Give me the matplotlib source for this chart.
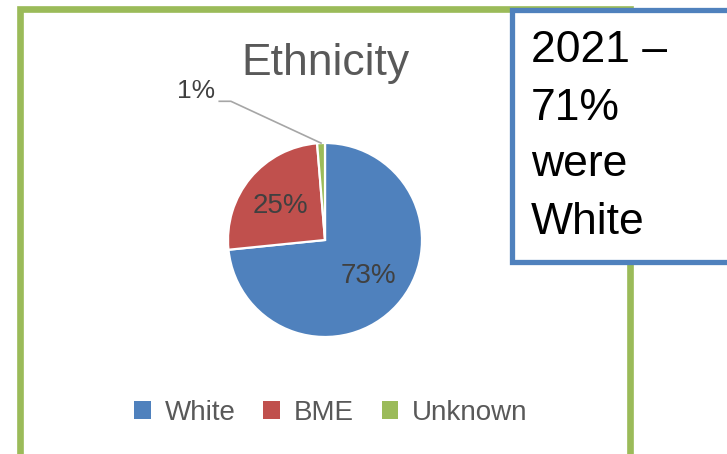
import matplotlib.pyplot as plt
import numpy as np
from matplotlib.patches import Rectangle, Patch

plt.rcParams['font.family'] = ['Liberation Sans', 'DejaVu Sans']

categories = ['White', 'BME', 'Unknown']
shares = [73.4, 25.3, 1.3]
labels = ['73%', '25%', '1%']
colors = ['#4F81BD', '#C0504D', '#9BBB59']

W, H = 727, 454
fig = plt.figure(figsize=(W / 100, H / 100), dpi=100)

# outer green frame (extends past the bottom of the picture)
fig.patches.append(Rectangle((20 / W, -0.1), (630 - 20) / W, (H - 9) / H + 0.1,
                             transform=fig.transFigure, fill=False,
                             edgecolor='#9BBB59', linewidth=4.8, zorder=0))

# one axes over the whole figure, 1 data unit = R pixels
cx, cy, R = 325, 240, 97
ax = fig.add_axes([0, 0, 1, 1])

wedges, _ = ax.pie(shares, colors=colors, startangle=90, counterclock=False,
                   radius=1, wedgeprops=dict(edgecolor='white', linewidth=1.6))
ax.set_xlim(-cx / R, (W - cx) / R)
ax.set_ylim(-(H - cy) / R, cy / R)
ax.set_aspect('equal')
ax.axis('off')

# labels inside the two big slices, outside with a leader for the small one
for w, lab in zip(wedges, labels):
    mid = np.deg2rad((w.theta1 + w.theta2) / 2)
    if lab == '1%':
        px, py = np.cos(mid), np.sin(mid)
        ax.plot([px, -0.97, -1.09], [py, 1.43, 1.43], color='#A6A6A6', lw=1.2)
        ax.text(-1.13, 1.54, lab, ha='right', va='center', fontsize=19, color='#404040')
    else:
        ax.text(0.6 * np.cos(mid), 0.55 * np.sin(mid), lab, ha='center', va='center',
                fontsize=20, color='#404040')

ax.text(0, (cy - 63) / R, 'Ethnicity', ha='center', va='center', fontsize=32, color='#595959')

handles = [Patch(facecolor=c, edgecolor='none') for c in colors]
fig.legend(handles, categories, loc='center', bbox_to_anchor=(331 / W, 1 - 413 / H),
           ncol=3, frameon=False, fontsize=20, labelcolor='#595959',
           handlelength=0.6, handleheight=0.6, handletextpad=0.5, columnspacing=1.0)

# callout box on the top right
fig.patches.append(Rectangle((512 / W, 1 - 262 / H), 0.5, 252 / H,
                             transform=fig.transFigure, facecolor='white',
                             edgecolor='#4F81BD', linewidth=3.8, zorder=5))
for i, line in enumerate(['2021 –', '71%', 'were', 'White']):
    fig.text(531 / W, 1 - (51 + 57 * i) / H, line, ha='left', va='center',
             fontsize=32, color='black', zorder=6)

fig.savefig('out.png', dpi=100)
